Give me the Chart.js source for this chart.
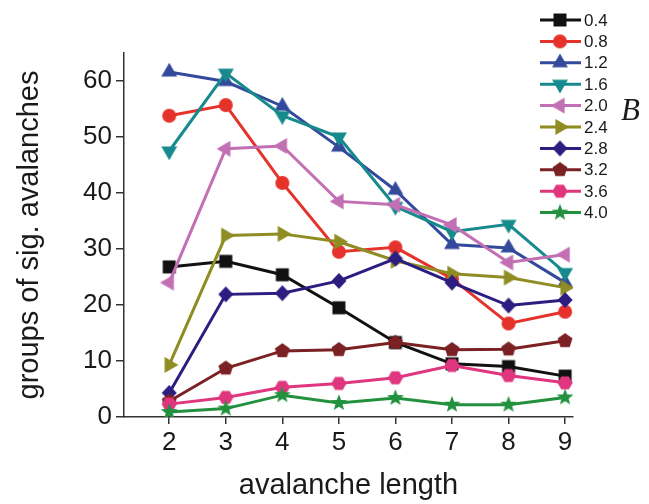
<!DOCTYPE html>
<html><head><meta charset="utf-8">
<script src="https://cdn.jsdelivr.net/npm/chart.js@4/dist/chart.umd.min.js"></script>
<style>html,body{margin:0;padding:0;background:#fff;}#wrap{width:649px;height:504px;position:relative;}</style>
</head><body><div id="wrap"><canvas id="c" width="649" height="504"></canvas></div>
<script>
const lengths = [2, 3, 4, 5, 6, 7, 8, 9];
const xTicks = [2, 3, 4, 5, 6, 7, 8, 9];
const yTicks = [0, 10, 20, 30, 40, 50, 60];
const seriesLabels = ['0.4', '0.8', '1.2', '1.6', '2.0', '2.4', '2.8', '3.2', '3.6', '4.0'];
const s04 = [26.8, 27.8, 25.4, 19.5, 13.3, 9.5, 9.0, 7.3];
const s08 = [53.8, 55.7, 41.8, 29.5, 30.3, 24.7, 16.7, 18.8];
const s12 = [61.6, 59.9, 55.5, 48.2, 40.5, 30.8, 30.2, 24.0];
const s16 = [47.5, 61.4, 53.8, 50.0, 37.6, 33.1, 34.4, 25.8];
const s20 = [24.0, 47.9, 48.4, 38.5, 37.9, 34.3, 27.6, 29.0];
const s24 = [9.3, 32.4, 32.7, 31.3, 27.9, 25.6, 24.9, 23.1];
const s28 = [4.3, 21.9, 22.1, 24.3, 28.3, 24.0, 19.9, 20.9];
const s32 = [2.8, 8.7, 11.8, 12.0, 13.3, 12.0, 12.1, 13.6];
const s36 = [2.3, 3.5, 5.3, 6.0, 7.0, 9.2, 7.4, 6.1];
const s40 = [0.9, 1.5, 3.9, 2.5, 3.4, 2.2, 2.2, 3.5];
const seriesValues = [s04, s08, s12, s16, s20, s24, s28, s32, s36, s40];
const seriesColors = ['#111111', '#e5322b', '#334a9c', '#168a8c', '#c26fb3', '#8e8c22', '#2c1d80', '#7b2023', '#e0367f', '#22913e'];
const seriesShapes = ['square', 'circle', 'up', 'down', 'left', 'right', 'diamond', 'pentagon', 'hexagon', 'star'];

function makeMarker(shape, color) {
  const S = 22;
  const c = document.createElement('canvas');
  c.width = S; c.height = S;
  const g = c.getContext('2d');
  g.fillStyle = color;
  g.translate(S / 2, S / 2);
  g.beginPath();
  const poly = (n, r, rot) => {
    for (let k = 0; k < n; k++) {
      const a = rot + k * 2 * Math.PI / n;
      const px = r * Math.cos(a), py = r * Math.sin(a);
      if (k) g.lineTo(px, py); else g.moveTo(px, py);
    }
    g.closePath();
  };
  switch (shape) {
    case 'square': g.rect(-6.5, -6.5, 13, 13); break;
    case 'circle': g.arc(0, 0, 7, 0, 2 * Math.PI); break;
    case 'up': poly(3, 9.2, -Math.PI / 2); break;
    case 'down': poly(3, 9.2, Math.PI / 2); break;
    case 'left': poly(3, 9.2, Math.PI); break;
    case 'right': poly(3, 9.2, 0); break;
    case 'diamond': g.moveTo(0, -8); g.lineTo(7.5, 0); g.lineTo(0, 8); g.lineTo(-7.5, 0); g.closePath(); break;
    case 'pentagon': poly(5, 7.8, -Math.PI / 2); break;
    case 'hexagon': poly(6, 7.6, 0); break;
    case 'star': {
      for (let k = 0; k < 10; k++) {
        const r = k % 2 ? 3.7 : 8.8;
        const a = -Math.PI / 2 + k * Math.PI / 5;
        const px = r * Math.cos(a), py = r * Math.sin(a);
        if (k) g.lineTo(px, py); else g.moveTo(px, py);
      }
      g.closePath();
      break;
    }
  }
  g.fill();
  return c;
}

const markers = seriesShapes.map((s, i) => makeMarker(s, seriesColors[i]));

const datasets = seriesLabels.map((lab, i) => ({
  label: lab,
  data: lengths.map((x, j) => ({ x: x, y: seriesValues[i][j] })),
  borderColor: seriesColors[i],
  backgroundColor: seriesColors[i],
  borderWidth: 3,
  pointStyle: markers[i],
  pointRadius: 7,
  tension: 0,
  order: -i
}));

const FONT = "'Liberation Sans', Arial, Helvetica, sans-serif";

const legendPlugin = {
  id: 'customLegend',
  afterDraw(chart) {
    const ctx = chart.ctx;
    ctx.save();
    seriesLabels.forEach((lab, i) => {
      const y = 20 + i * 21.4;
      ctx.strokeStyle = seriesColors[i];
      ctx.lineWidth = 3;
      ctx.beginPath();
      ctx.moveTo(540, y); ctx.lineTo(581, y);
      ctx.stroke();
      const m = markers[i];
      ctx.drawImage(m, 560 - m.width / 2, y - m.height / 2);
      ctx.fillStyle = '#1a1a1a';
      ctx.font = '17px ' + FONT;
      ctx.textBaseline = 'middle';
      ctx.textAlign = 'left';
      ctx.fillText(lab, 584, y + 1);
    });
    ctx.font = "italic 31px 'Liberation Serif', 'Times New Roman', serif";
    ctx.fillStyle = '#1a1a1a';
    ctx.textBaseline = 'middle';
    ctx.fillText('B', 621, 112);
    ctx.restore();
  }
};

new Chart(document.getElementById('c'), {
  type: 'line',
  data: { datasets: datasets },
  plugins: [legendPlugin],
  options: {
    responsive: false,
    animation: false,
    events: [],
    layout: { padding: { top: 53, right: 76, left: 0, bottom: 0 } },
    plugins: { legend: { display: false }, tooltip: { enabled: false } },
    scales: {
      x: {
        type: 'linear', min: 1.2, max: 9.14,
        afterBuildTicks: s => { s.ticks = xTicks.map(v => ({ value: v })); },
        afterFit: s => { s.height = 87; },
        grid: { drawOnChartArea: false, drawTicks: true, tickLength: 7, color: '#333', lineWidth: 1.5 },
        border: { color: '#333', width: 1.5 },
        ticks: { font: { size: 26, family: FONT }, color: '#1a1a1a', padding: 3, maxRotation: 0, autoSkip: false },
        title: { display: true, text: 'avalanche length', font: { size: 29, family: FONT }, color: '#1a1a1a', padding: { top: 0, bottom: 1 } }
      },
      y: {
        type: 'linear', min: 0, max: 65,
        afterBuildTicks: s => { s.ticks = yTicks.map(v => ({ value: v })); },
        afterFit: s => { s.width = 124; },
        grid: { drawOnChartArea: false, drawTicks: true, tickLength: 8, color: '#333', lineWidth: 1.5 },
        border: { color: '#333', width: 1.5 },
        ticks: { font: { size: 26, family: FONT }, color: '#1a1a1a', padding: 4, autoSkip: false },
        title: { display: true, text: 'groups of sig. avalanches', font: { size: 29, family: FONT }, color: '#1a1a1a', padding: { top: 13, bottom: 0 } }
      }
    }
  }
});
</script>
</body></html>
